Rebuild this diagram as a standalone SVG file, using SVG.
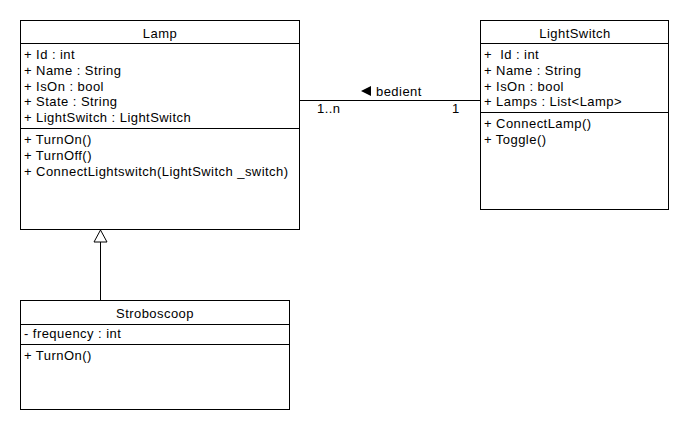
<svg xmlns="http://www.w3.org/2000/svg" width="690" height="430" viewBox="0 0 690 430">
<style>
.box{fill:#fff;stroke:#000;stroke-width:1}
.ln{stroke:#000;stroke-width:1;fill:none}
text{font-family:"Liberation Sans",Arial,sans-serif;font-size:13px;letter-spacing:0.45px;fill:#000}
.c{text-anchor:middle}
</style>
<rect width="690" height="430" fill="#fff"/>
<g id="connectors">
<line class="ln" x1="300" y1="100.5" x2="480" y2="100.5"/>
<polygon points="361,91 371,86 371,96" fill="#000"/>
<text x="376" y="96">bedient</text>
<text x="317" y="113">1..n</text>
<text x="452" y="113">1</text>
<line class="ln" x1="100.5" y1="300" x2="100.5" y2="242"/>
<polygon class="ln" points="100.5,230 94,242 107,242" fill="#fff"/>
</g>
<g id="Lamp">
<rect class="box" x="20.5" y="20.5" width="279" height="209"/>
<line class="ln" x1="20.5" y1="43.5" x2="299.5" y2="43.5"/>
<line class="ln" x1="20.5" y1="128.5" x2="299.5" y2="128.5"/>
<text class="c" x="160" y="38">Lamp</text>
<text x="24" y="59">+ Id : int</text>
<text x="24" y="75">+ Name : String</text>
<text x="24" y="91">+ IsOn : bool</text>
<text x="24" y="106">+ State : String</text>
<text x="24" y="122">+ LightSwitch : LightSwitch</text>
<text x="24" y="144">+ TurnOn()</text>
<text x="24" y="160">+ TurnOff()</text>
<text x="24" y="176">+ ConnectLightswitch(LightSwitch _switch)</text>
</g>
<g id="LightSwitch">
<rect class="box" x="480.5" y="20.5" width="188" height="189"/>
<line class="ln" x1="480.5" y1="43.5" x2="668.5" y2="43.5"/>
<line class="ln" x1="480.5" y1="112.5" x2="668.5" y2="112.5"/>
<text class="c" x="575" y="38">LightSwitch</text>
<text x="484" y="59" xml:space="preserve">+  Id : int</text>
<text x="484" y="75">+ Name : String</text>
<text x="484" y="91">+ IsOn : bool</text>
<text x="484" y="106">+ Lamps : List&lt;Lamp&gt;</text>
<text x="484" y="128">+ ConnectLamp()</text>
<text x="484" y="144">+ Toggle()</text>
</g>
<g id="Stroboscoop">
<rect class="box" x="20.5" y="300.5" width="269" height="109"/>
<line class="ln" x1="20.5" y1="324.5" x2="289.5" y2="324.5"/>
<line class="ln" x1="20.5" y1="344.5" x2="289.5" y2="344.5"/>
<text class="c" x="155" y="318">Stroboscoop</text>
<text x="24" y="338">- frequency : int</text>
<text x="24" y="360">+ TurnOn()</text>
</g>
</svg>
